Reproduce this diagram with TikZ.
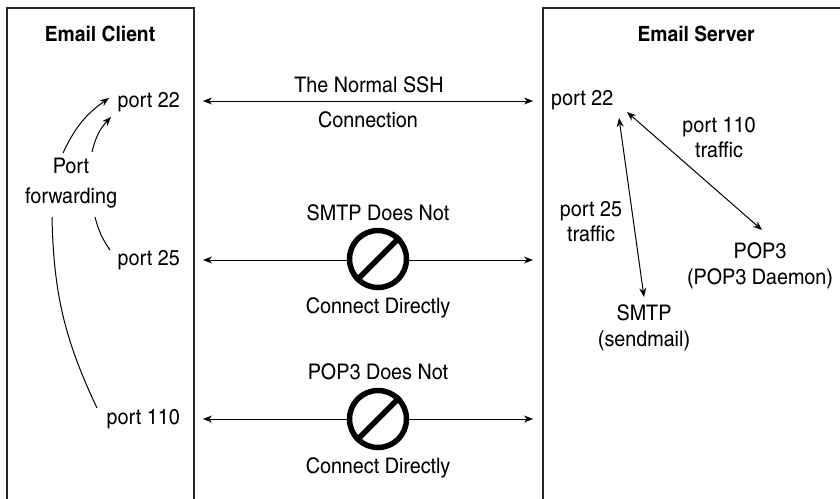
\documentclass[tikz,border=0pt]{standalone}
\usepackage{fontspec}
\setmainfont{TeX Gyre Heros Cn}[FakeStretch=1.12]
\usetikzlibrary{arrows.meta}
\begin{document}
\begin{tikzpicture}[x=1pt,y=-1pt,
  every node/.style={inner sep=0pt,font=\fontsize{21.5}{26}\selectfont},
  boxline/.style={line width=1.3pt,draw=black!85},
  lbl/.style={align=center},
  head/.style={font=\fontsize{21}{24}\selectfont\bfseries},
  arr/.style={line width=1pt,-{Stealth[length=9pt,width=7pt]}},
  darr/.style={line width=1pt,{Stealth[length=9pt,width=7pt]}-{Stealth[length=9pt,width=7pt]}},
  plain/.style={line width=1pt},
  nosign/.style={circle,draw,line width=5.5pt,minimum size=57pt}]
\useasboundingbox (0,0) rectangle (840,498);
% boxes
\draw[boxline] (7,510) -- (7,8) -- (194,8) -- (194,510);
\draw[boxline] (543,510) -- (543,8) -- (850,8);
\node[head] (hc) at (100,34) {Email Client};
\node[head] (hs) at (696,34) {Email Server};
% client ports
\node[anchor=east] (c22) at (180,102) {port 22};
\node[anchor=east] (c25) at (180,260) {port 25};
\node[anchor=east] (c110) at (180,419) {port 110};
\node[lbl,font=\fontsize{21.5}{30}\selectfont] (pf) at (71,183) {Port\\forwarding};
\coordinate (a1s) at (63,153);
\coordinate (a1e) at (109,98);
\coordinate (a2s) at (92,152);
\coordinate (a2e) at (111,117);
\coordinate (l1s) at (95,217);
\coordinate (l1e) at (110,250);
\coordinate (l2s) at (52,217);
\coordinate (l2e) at (97,408);
\draw[arr] (a1s) to[bend left=15] (a1e);
\draw[arr] (a2s) to[bend left=15] (a2e);
\draw[plain] (l1s) to[bend right=10] (l1e);
\draw[plain] (l2s) to[bend right=12] (l2e);
% middle connections
\coordinate (m1l) at (203,101);
\coordinate (m1r) at (533,101);
\coordinate (m2l) at (203,260);
\coordinate (m2r) at (533,260);
\coordinate (m3l) at (203,419);
\coordinate (m3r) at (533,419);
\draw[darr] (m1l) -- (m1r);
\draw[darr] (m2l) -- (m2r);
\draw[darr] (m3l) -- (m3r);
\node (t1) at (369,85) {The Normal SSH};
\node (t2) at (368,120) {Connection};
\node (t3) at (378,213) {SMTP Does Not};
\node (t4) at (378,308) {Connect Directly};
\node (t5) at (378,372) {POP3 Does Not};
\node (t6) at (378,468) {Connect Directly};
\node[nosign,fill=white] (ns1) at (378,259) {};
\draw[line width=5.5pt] (ns1.225) -- (ns1.45);
\node[nosign,fill=white] (ns2) at (378,419) {};
\draw[line width=5.5pt] (ns2.225) -- (ns2.45);
% server
\node[anchor=west] (s22) at (551,100) {port 22};
\node[lbl] (smtp) at (644,328) {SMTP\\(sendmail)};
\node[lbl] (pop) at (760,266) {POP3\\(POP3 Daemon)};
\node[lbl,font=\fontsize{21.5}{25}\selectfont] (t110) at (719,138) {port 110\\traffic};
\node[lbl,font=\fontsize{21.5}{25}\selectfont] (t25) at (591,222) {port 25\\traffic};
\coordinate (s1a) at (619,118);
\coordinate (s1b) at (644,297);
\coordinate (s2a) at (627,112);
\coordinate (s2b) at (762,230);
\draw[darr] (s1a) -- (s1b);
\draw[darr] (s2a) -- (s2b);
\end{tikzpicture}
\end{document}
